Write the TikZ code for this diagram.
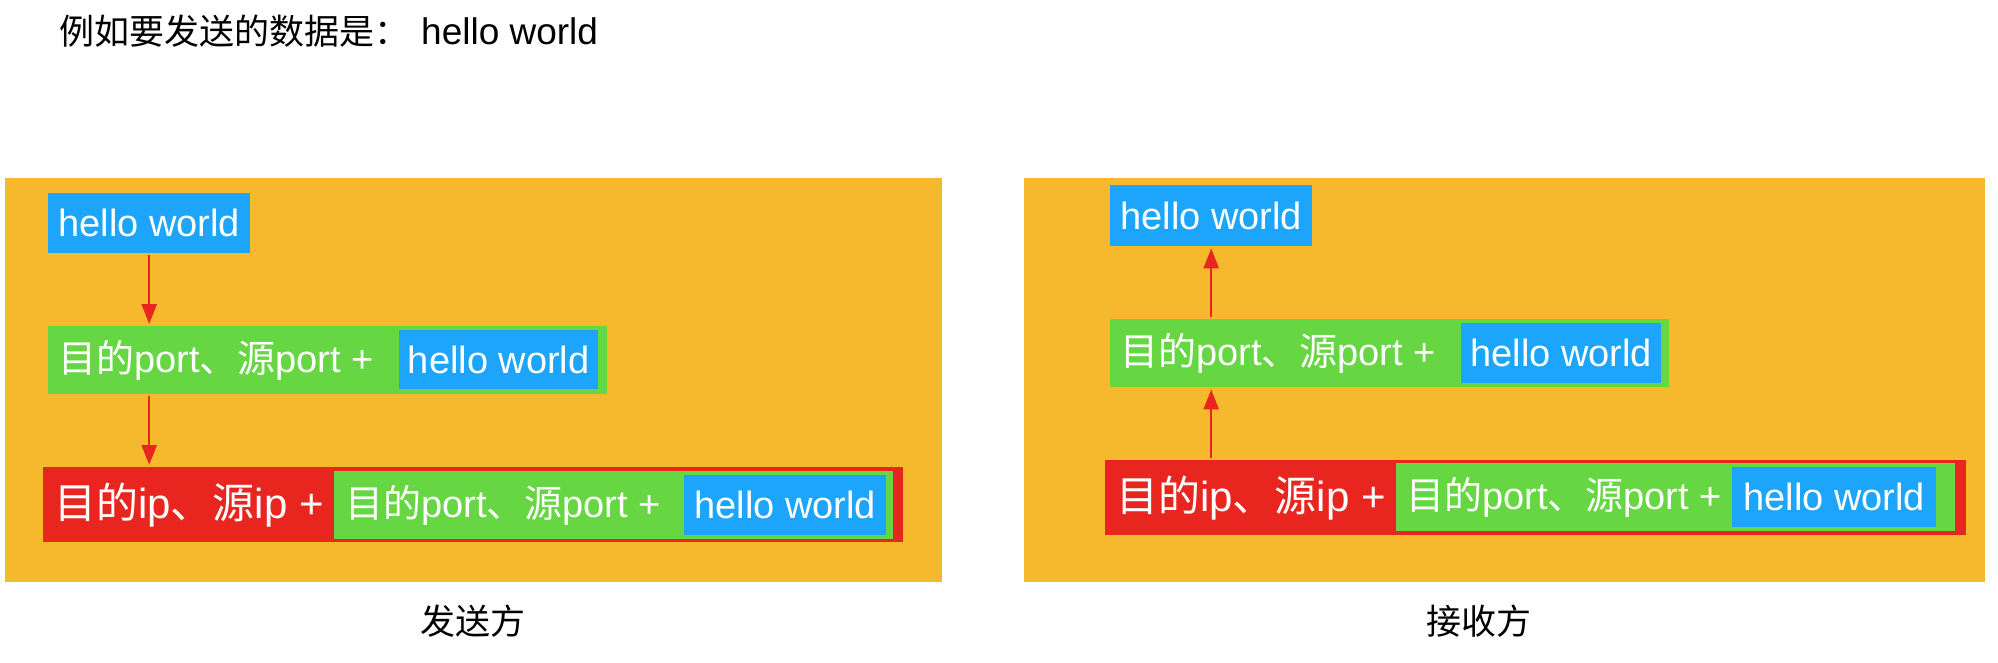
\documentclass[tikz,border=0pt]{standalone}
\usepackage{fontspec}
\setmainfont{Liberation Sans}
\newfontfamily\cjk{Noto Sans CJK SC}
\newcommand\zh[1]{{\cjk #1}}
\usetikzlibrary{arrows.meta}
\definecolor{panelorange}{HTML}{F6B82C}
\definecolor{hwblue}{HTML}{1DA5FB}
\definecolor{portgreen}{HTML}{66D743}
\definecolor{ipred}{HTML}{E8261F}
\tikzset{
  panel/.style={fill=panelorange, draw=none, anchor=north west, inner sep=0},
  bluebox/.style={fill=hwblue, text=white, anchor=north west, inner sep=0, minimum width=202pt, minimum height=60pt, font=\fontsize{38}{40}\selectfont},
  greenbox/.style={fill=portgreen, anchor=north west, inner sep=0, minimum width=559pt, minimum height=68pt},
  redbox/.style={fill=ipred, anchor=north west, inner sep=0, minimum width=861pt, minimum height=75pt},
  greentext/.style={text=white, anchor=west, inner sep=0, font=\fontsize{38}{40}\selectfont},
  redtext/.style={text=white, anchor=west, inner sep=0, font=\fontsize{42}{44}\selectfont},
  caption/.style={text=black, inner sep=0, font=\fontsize{35}{38}\selectfont},
  arr/.style={draw=ipred, line width=2.5pt, -{Triangle[width=15pt,length=20pt]}, shorten >=2pt, shorten <=2pt}
}
\begin{document}
\begin{tikzpicture}[x=1pt,y=-1pt]
\useasboundingbox (0,0) rectangle (1998,662);
% title
\node[caption, anchor=west] (title) at (59,31) {\zh{例如要发送的数据是：}\hspace{12pt}{\fontsize{37}{38}\selectfont hello world}};
% panels
\node[panel, minimum width=937pt, minimum height=404pt] (panelL) at (5,178) {};
\node[panel, minimum width=961pt, minimum height=404pt] (panelR) at (1024,178) {};
\node[caption] (capL) at (473,621) {\zh{发送方}};
\node[caption] (capR) at (1479,621) {\zh{接收方}};
% left panel
\node[bluebox] (L1) at (48,193) {hello world};
\node[greenbox] (L2) at (48,326) {};
\node[greentext] (L2t) at (58,360) {\zh{目的}port\zh{、源}port +};
\node[bluebox, minimum width=199pt, minimum height=59pt] (L2b) at (399,330) {hello world};
\node[redbox, minimum width=860pt] (L3) at (43,467) {};
\node[redtext] (L3t) at (54,505) {\zh{目的}ip\zh{、源}ip +};
\node[greenbox] (L3g) at (334,471) {};
\node[greentext] (L3gt) at (345,505) {\zh{目的}port\zh{、源}port +};
\node[bluebox] (L3b) at (684,475) {hello world};
\draw[arr] (L1.south) -- (L2.north -| L1.south);
\draw[arr] (L2.south -| L1.south) -- (L3.north -| L1.south);
% right panel
\node[bluebox, minimum height=61pt] (R1) at (1110,185) {hello world};
\node[greenbox] (R2) at (1110,319) {};
\node[greentext] (R2t) at (1120,353) {\zh{目的}port\zh{、源}port +};
\node[bluebox, minimum width=200pt] (R2b) at (1461,323) {hello world};
\node[redbox] (R3) at (1105,460) {};
\node[redtext] (R3t) at (1116,498) {\zh{目的}ip\zh{、源}ip +};
\node[greenbox] (R3g) at (1396,463) {};
\node[greentext] (R3gt) at (1406,497) {\zh{目的}port\zh{、源}port +};
\node[bluebox, minimum width=204pt] (R3b) at (1732,467) {hello world};
\draw[arr] (R2.north -| R1.south) -- (R1.south);
\draw[arr] (R3.north -| R1.south) -- (R2.south -| R1.south);
\end{tikzpicture}
\end{document}
